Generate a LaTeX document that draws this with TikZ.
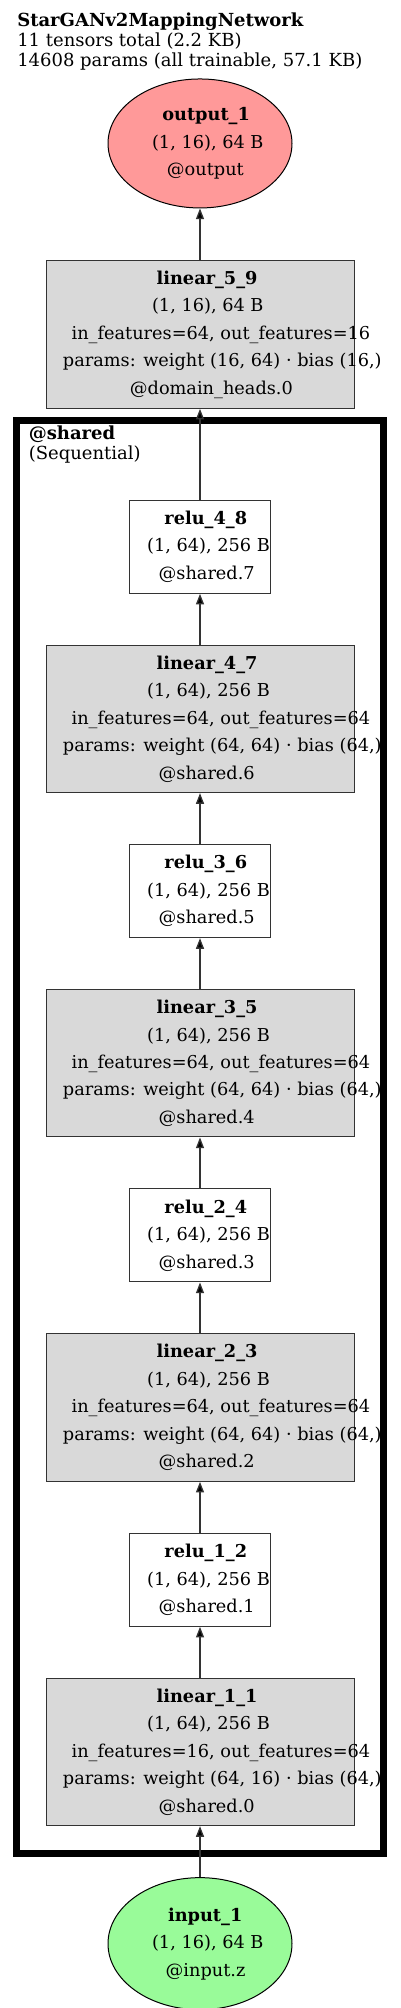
\documentclass[tikz,border=0pt]{standalone}
\usepackage{fontspec}
\setmainfont{DejaVu Serif}
\usetikzlibrary{shapes, arrows.meta, calc, positioning}

\definecolor{outfill}{HTML}{FF9999}
\definecolor{infill}{HTML}{99FB99}
\definecolor{linfill}{HTML}{D9D9D9}

% one centred line, pushed a little to the right
\newlength{\rowwd}
\newcommand{\row}[1]{\settowidth{\rowwd}{#1}\makebox[0pt]{\hspace*{0.14\rowwd}#1}}

\begin{document}
\begin{tikzpicture}[>={Triangle[length=8pt, width=6pt]}, node distance=38.25pt]
	\tikzstyle{every node} = [font=\fontsize{13.3}{20.6}\selectfont]
	\tikzstyle{layer} = [draw=black!80, line width=0.75pt, align=center, inner sep=0pt]
	\tikzstyle{linear} = [layer, fill=linfill, minimum width=231pt, minimum height=110.5pt]
	\tikzstyle{relu} = [layer, fill=white, minimum width=105.75pt, minimum height=69.75pt]
	\tikzstyle{tensor} = [layer, draw=black, ellipse, minimum width=138pt, minimum height=96.75pt]
	\tikzstyle{heading} = [anchor=north west, align=left, inner sep=0pt, font=\fontsize{13.5}{15}\selectfont]

	\useasboundingbox (0,0) rectangle (300pt,-1506pt);

	\node[heading] (title) at (12.75pt,-9.5pt) {\textbf{StarGANv2MappingNetwork}\\11 tensors total (2.2 KB)\\14608 params (all trainable, 57.1 KB)};

	\path
		node[tensor, fill=outfill] (output) at (150pt,-107.6pt)
			{\row{\textbf{output\_1}}\\\row{(1, 16), 64 B}\\\row{@output}}
		node[linear, below=39pt of output] (linear59)
			{\row{\textbf{linear\_5\_9}}\\\row{(1, 16), 64 B}\\\row{in\_features=64, out\_features=16}\\\row{params: weight (16, 64) · bias (16,)}\\\row{@domain\_heads.0}}
		node[relu, below=68.25pt of linear59] (relu48)
			{\row{\textbf{relu\_4\_8}}\\\row{(1, 64), 256 B}\\\row{@shared.7}}
		node[linear, below=of relu48] (linear47)
			{\row{\textbf{linear\_4\_7}}\\\row{(1, 64), 256 B}\\\row{in\_features=64, out\_features=64}\\\row{params: weight (64, 64) · bias (64,)}\\\row{@shared.6}}
		node[relu, below=of linear47] (relu36)
			{\row{\textbf{relu\_3\_6}}\\\row{(1, 64), 256 B}\\\row{@shared.5}}
		node[linear, below=of relu36] (linear35)
			{\row{\textbf{linear\_3\_5}}\\\row{(1, 64), 256 B}\\\row{in\_features=64, out\_features=64}\\\row{params: weight (64, 64) · bias (64,)}\\\row{@shared.4}}
		node[relu, below=of linear35] (relu24)
			{\row{\textbf{relu\_2\_4}}\\\row{(1, 64), 256 B}\\\row{@shared.3}}
		node[linear, below=of relu24] (linear23)
			{\row{\textbf{linear\_2\_3}}\\\row{(1, 64), 256 B}\\\row{in\_features=64, out\_features=64}\\\row{params: weight (64, 64) · bias (64,)}\\\row{@shared.2}}
		node[relu, below=of linear23] (relu12)
			{\row{\textbf{relu\_1\_2}}\\\row{(1, 64), 256 B}\\\row{@shared.1}}
		node[linear, below=of relu12] (linear11)
			{\row{\textbf{linear\_1\_1}}\\\row{(1, 64), 256 B}\\\row{in\_features=16, out\_features=64}\\\row{params: weight (64, 16) · bias (64,)}\\\row{@shared.0}}
		node[tensor, fill=infill, minimum height=99pt, below=of linear11] (input)
			{\row{\textbf{input\_1}}\\\row{(1, 16), 64 B}\\\row{@input.z}}
	;

	% the @shared block
	\coordinate (ctl) at ($(linear47.west |- relu48.north)+(-22.1pt,59.5pt)$);
	\draw[line width=5.25pt] (ctl) rectangle ($(linear11.south east)+(22.1pt,-20.6pt)$);
	\node[heading] (shared) at ($(ctl)+(9.4pt,-4pt)$) {\textbf{@shared}\\(Sequential)};

	\path[->, line width=1pt, draw=black!80]
		(input) edge (linear11)
		(linear11) edge (relu12)
		(relu12) edge (linear23)
		(linear23) edge (relu24)
		(relu24) edge (linear35)
		(linear35) edge (relu36)
		(relu36) edge (linear47)
		(linear47) edge (relu48)
		(relu48) edge (linear59)
		(linear59) edge (output)
	;
\end{tikzpicture}
\end{document}
